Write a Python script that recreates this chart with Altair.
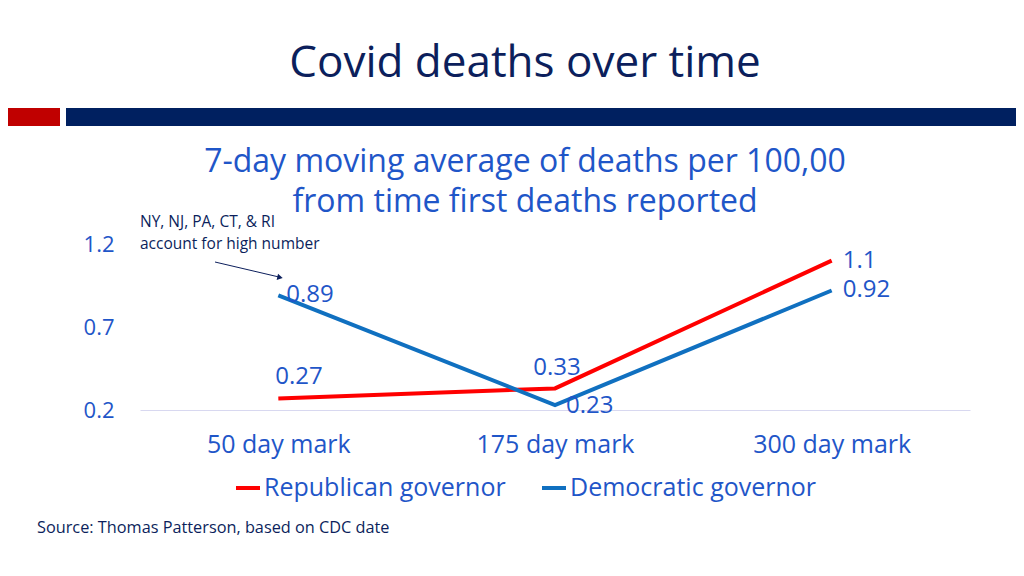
import altair as alt
import pandas as pd

# ---- data ----
categories = ["50 day mark", "175 day mark", "300 day mark"]
series = ["Republican governor", "Democratic governor"]
republican = [0.27, 0.33, 1.1]
democratic = [0.89, 0.23, 0.92]
y_ticks = [0.2, 0.7, 1.2]

title_text = "Covid deaths over time"
subtitle_lines = ["7-day moving average of deaths per 100,00", "from time first deaths reported"]
note_lines = ["NY, NJ, PA, CT, & RI", "account for high number"]
source_text = "Source: Thomas Patterson, based on CDC date"

rows = []
for c, v in zip(categories, republican):
    rows.append({"cat": c, "series": series[0], "value": v, "label": f"{v:g}"})
for c, v in zip(categories, democratic):
    rows.append({"cat": c, "series": series[1], "value": v, "label": f"{v:g}"})
df = pd.DataFrame(rows)

FONT = "Open Sans"
BLUE_TXT = "#1f56c8"
NAVY = "#0c1f5c"
RED_LINE = "#ff0000"
BLUE_LINE = "#1070c0"

x_enc = alt.X("cat:N", sort=categories,
              scale=alt.Scale(type="point", padding=0.5),
              axis=alt.Axis(title=None, labelAngle=0, ticks=False,
                            domainColor="#d8d8f0", domainWidth=1,
                            labelFontSize=25, labelColor=BLUE_TXT, labelFont=FONT,
                            labelPadding=22, grid=False))
y_enc = alt.Y("value:Q", scale=alt.Scale(domain=[0.2, 1.2], nice=False, zero=False),
              axis=alt.Axis(title=None, values=y_ticks, format=".1f", domain=False,
                            ticks=False, grid=False, labelFontSize=22,
                            labelColor=BLUE_TXT, labelFont=FONT, labelPadding=26))
color_enc = alt.Color("series:N",
                      scale=alt.Scale(domain=series, range=[RED_LINE, BLUE_LINE]),
                      legend=alt.Legend(title=None, orient="none", direction="horizontal",
                                        legendX=94, legendY=230,
                                        symbolType="stroke", symbolSize=576,
                                        symbolStrokeWidth=4, labelFontSize=25,
                                        labelColor=BLUE_TXT, labelFont=FONT,
                                        labelOffset=2, columnPadding=28,
                                        labelLimit=400))

base = alt.Chart(df)
lines = base.mark_line(strokeWidth=4).encode(x=x_enc, y=y_enc, color=color_enc)

# per-point label offsets (style only)
label_style = {
    (series[1], categories[0]): dict(align="left", dx=8, dy=0),
    (series[0], categories[0]): dict(align="left", dx=-3, dy=-21),
    (series[0], categories[1]): dict(align="center", dx=2, dy=-20),
    (series[1], categories[1]): dict(align="left", dx=11, dy=1),
    (series[0], categories[2]): dict(align="left", dx=11, dy=0),
    (series[1], categories[2]): dict(align="left", dx=11, dy=0),
}
label_layers = []
for (s, c), st in label_style.items():
    label_layers.append(
        base.transform_filter((alt.datum.series == s) & (alt.datum.cat == c))
        .mark_text(fontSize=24, font=FONT, color=BLUE_TXT, baseline="middle", **st)
        .encode(x=alt.X("cat:N", sort=categories), y="value:Q", text="label:N")
    )

one = alt.Chart(pd.DataFrame({"k": [0]}))

# decoration (pixel positions relative to plot origin at page (140,244))
red_bar = one.mark_rect(color="#c00000").encode(
    x=alt.value(-148), x2=alt.value(-80), y=alt.value(-136), y2=alt.value(-118))
navy_bar = one.mark_rect(color="#002060").encode(
    x=alt.value(-74), x2=alt.value(900), y=alt.value(-136), y2=alt.value(-118))

title = one.mark_text(fontSize=44, font=FONT, color=NAVY, align="center",
                      baseline="middle").encode(
    x=alt.value(385), y=alt.value(-180), text=alt.value(title_text))
sub1 = one.mark_text(fontSize=32, font=FONT, color=BLUE_TXT, align="center",
                     baseline="middle").encode(
    x=alt.value(385), y=alt.value(-82), text=alt.value(subtitle_lines[0]))
sub2 = one.mark_text(fontSize=32, font=FONT, color=BLUE_TXT, align="center",
                     baseline="middle").encode(
    x=alt.value(385), y=alt.value(-42), text=alt.value(subtitle_lines[1]))
note1 = one.mark_text(fontSize=15.5, font=FONT, color=NAVY, align="left",
                      baseline="middle").encode(
    x=alt.value(0), y=alt.value(-22), text=alt.value(note_lines[0]))
note2 = one.mark_text(fontSize=15.5, font=FONT, color=NAVY, align="left",
                      baseline="middle").encode(
    x=alt.value(0), y=alt.value(0), text=alt.value(note_lines[1]))
arrow_line = one.mark_rule(color=NAVY, strokeWidth=1).encode(
    x=alt.value(75), y=alt.value(18), x2=alt.value(139), y2=alt.value(33))
arrow_head = one.mark_point(shape="triangle-right", filled=True, color=NAVY,
                            size=40, angle=13, opacity=1).encode(
    x=alt.value(140), y=alt.value(33.5))
source = one.mark_text(fontSize=16.3, font=FONT, color=NAVY, align="left",
                       baseline="middle").encode(
    x=alt.value(-103), y=alt.value(284), text=alt.value(source_text))

chart = alt.layer(
    red_bar, navy_bar, title, sub1, sub2, note1, note2, arrow_line, arrow_head,
    lines, *label_layers, source
).properties(
    width=830, height=166,
    autosize=alt.AutoSizeParams(type="none"),
    padding={"left": 132, "top": 236, "right": 46, "bottom": 158},
    background="white",
).configure_view(stroke=None)

chart.save("out.html", embed_options={"renderer": "svg", "actions": False})
